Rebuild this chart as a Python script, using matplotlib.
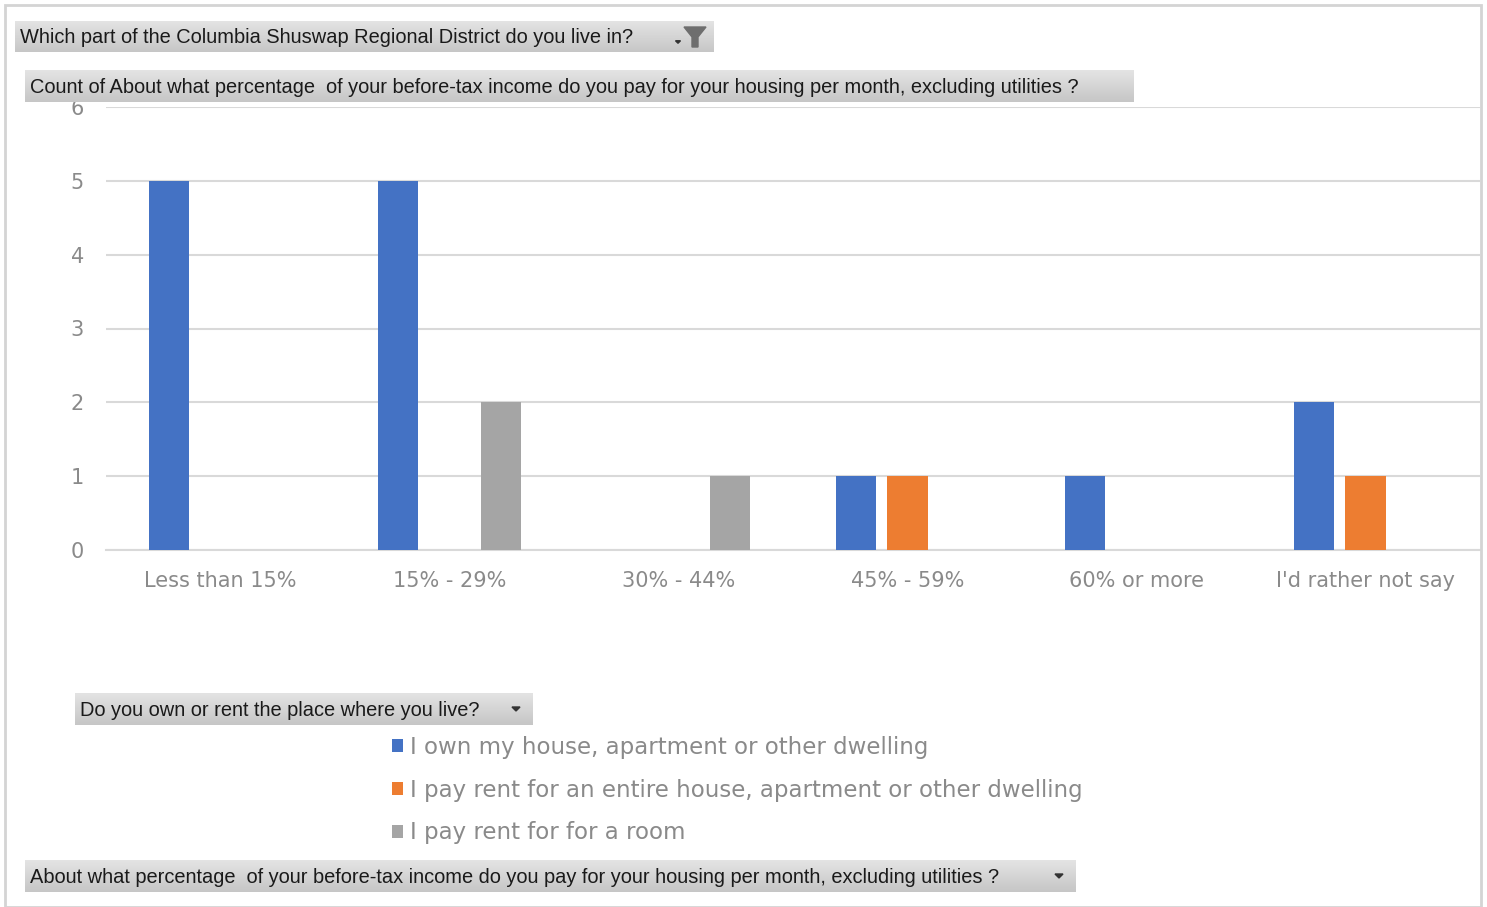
import numpy as np
import matplotlib.pyplot as plt
from matplotlib.colors import LinearSegmentedColormap
from matplotlib.patches import Rectangle, Polygon

W, H = 1487, 907

categories = ["Less than 15%", "15% - 29%", "30% - 44%", "45% - 59%",
              "60% or more", "I'd rather not say"]
own = [5, 5, 0, 1, 1, 2]
rent_entire = [0, 0, 0, 1, 0, 1]
rent_room = [0, 2, 1, 0, 0, 0]
series_labels = ["I own my house, apartment or other dwelling",
                 "I pay rent for an entire house, apartment or other dwelling",
                 "I pay rent for for a room"]
colors = ["#4472C4", "#ED7D31", "#A5A5A5"]

btn_font = ["Liberation Sans", "DejaVu Sans"]
chart_font = ["DejaVu Sans"]


def px(x0, y0, x1, y1):
    return [x0 / W, 1 - y1 / H, (x1 - x0) / W, (y1 - y0) / H]


fig = plt.figure(figsize=(W / 100, H / 100), dpi=100)

# outer frame
fig.patches.append(Rectangle((5 / W, 0), (1481 - 5) / W, 1 - 5 / H,
                             transform=fig.transFigure, fill=False,
                             ec="#d4d4d4", lw=2))

ax = fig.add_axes(px(106, 107, 1480, 550))
x = np.arange(len(categories))
bw, off = 0.175, 0.223
ax.bar(x - off, own, bw, color=colors[0], label=series_labels[0], zorder=3)
ax.bar(x, rent_entire, bw, color=colors[1], label=series_labels[1], zorder=3)
ax.bar(x + off, rent_room, bw, color=colors[2], label=series_labels[2], zorder=3)
ax.set_xlim(-0.5, len(categories) - 0.5)
ax.set_ylim(0, 6)
ax.set_yticks(range(7))
ax.set_xticks(x)
ax.set_xticklabels(categories)
ax.grid(axis="y", color="#d9d9d9", lw=1.5, zorder=0)
for s in ["top", "right", "left"]:
    ax.spines[s].set_visible(False)
ax.spines["bottom"].set_color("#d9d9d9")
ax.spines["bottom"].set_linewidth(1.5)
ax.tick_params(length=0, colors="#8a8a8a", labelsize=15)
ax.tick_params(axis="x", pad=15)
ax.tick_params(axis="y", pad=16)
for t in ax.get_xticklabels() + ax.get_yticklabels():
    t.set_family(chart_font)

# legend
handles, labels = ax.get_legend_handles_labels()
leg = fig.legend(handles, labels, loc="upper left",
                 bbox_to_anchor=(371 / W, 1 - 715 / H), frameon=False,
                 prop={"family": chart_font, "size": 16.5},
                 handlelength=0.5, handleheight=0.5, handletextpad=0.3,
                 labelspacing=0.87)
for t in leg.get_texts():
    t.set_color("#8a8a8a")

# field buttons
grad = np.linspace(0, 1, 50).reshape(-1, 1)
gcmap = LinearSegmentedColormap.from_list("g", ["#e4e4e4", "#c6c6c6"])


def button(x0, y0, x1, y1, text):
    bax = fig.add_axes(px(x0, y0, x1, y1), zorder=5)
    bax.imshow(grad, cmap=gcmap, aspect="auto", extent=(0, 1, 0, 1),
               origin="upper")
    bax.set_xlim(0, 1)
    bax.set_ylim(0, 1)
    bax.axis("off")
    bax.text(5 / (x1 - x0), 0.46, text, va="center", ha="left",
             fontsize=14.4, family=btn_font, color="#1a1a1a")
    return bax


button(15, 21, 714, 52,
       "Which part of the Columbia Shuswap Regional District do you live in?")
button(25, 70, 1134, 102,
       "Count of About what percentage  of your before-tax income do you pay "
       "for your housing per month, excluding utilities ?")
button(75, 693, 533, 725, "Do you own or rent the place where you live?")
button(25, 860, 1076, 892,
       "About what percentage  of your before-tax income do you pay for your "
       "housing per month, excluding utilities ?")


def arrow(cx, cy, size=4):
    fig.patches.append(Polygon([((cx - size) / W, 1 - (cy - size / 2) / H),
                                ((cx + size) / W, 1 - (cy - size / 2) / H),
                                (cx / W, 1 - (cy + size / 2) / H)],
                               closed=True, transform=fig.transFigure,
                               color="#333333", zorder=10))


# filter icon
fig.patches.append(Polygon([(684 / W, 1 - 27 / H), (706 / W, 1 - 27 / H),
                            (698 / W, 1 - 37 / H), (698 / W, 1 - 47 / H),
                            (692 / W, 1 - 47 / H), (692 / W, 1 - 37 / H)],
                           closed=True, transform=fig.transFigure,
                           color="#6e6e6e", zorder=10))
arrow(678, 42, 2.5)
arrow(516, 709)
arrow(1059, 876)

fig.savefig("out.png", dpi=100)
